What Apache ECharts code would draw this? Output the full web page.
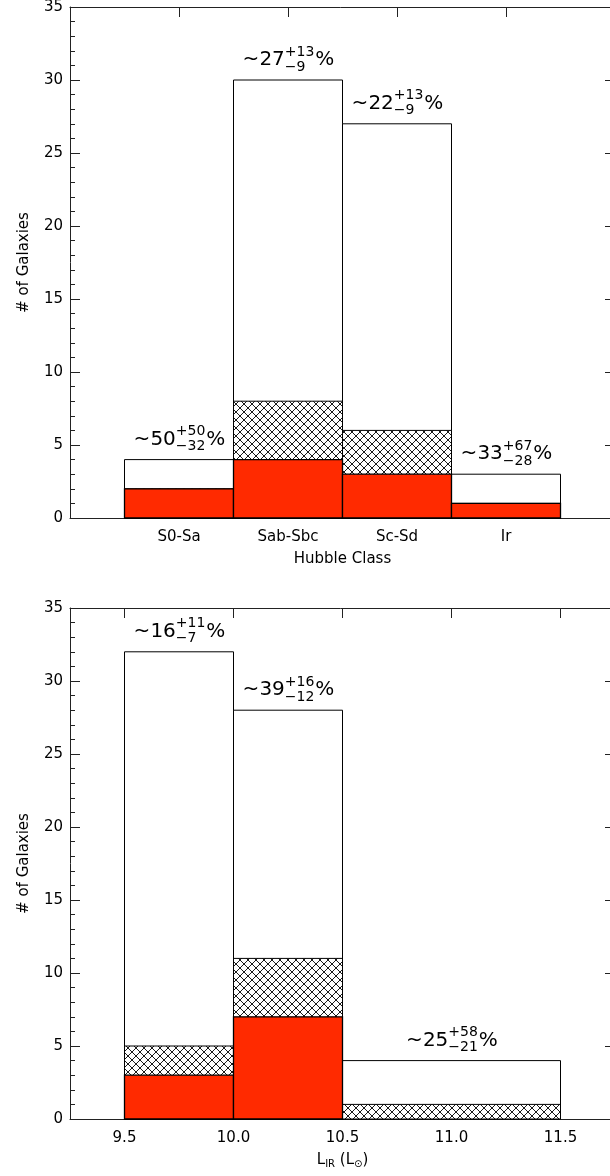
<!DOCTYPE html>
<html><head><meta charset="utf-8">
<script src="https://cdn.jsdelivr.net/npm/echarts@6/dist/echarts.min.js"></script>
<style>html,body{margin:0;padding:0;background:#fff}#c{width:610px;height:1176px}</style>
</head><body><div id="c"></div>
<script>
// ---------- DATA ----------
const hubbleClasses = ['S0-Sa', 'Sab-Sbc', 'Sc-Sd', 'Ir'];
const hubbleTotal   = [4, 30, 27, 3];
const hubbleHatched = [2, 8, 6, 1];
const hubbleRed     = [2, 4, 3, 1];
const hubbleMain    = ['~50', '~27', '~22', '~33'];
const hubbleSup     = ['+50', '+13', '+13', '+67'];
const hubbleSub     = ['\u221232', '\u22129', '\u22129', '\u221228'];

const lirEdges   = [9.5, 10.0, 10.5, 11.5];
const lirTicks   = [9.5, 10.0, 10.5, 11.0, 11.5];
const lirTotal   = [32, 28, 4];
const lirHatched = [5, 11, 1];
const lirRed     = [3, 7, 0];
const lirMain    = ['~16', '~39', '~25'];
const lirSup     = ['+11', '+16', '+58'];
const lirSub     = ['\u22127', '\u221212', '\u221221'];

const yTicksMax = 35, yTickStep = 5;

// ---------- STYLE ----------
const FAM = '"DejaVu Sans", sans-serif';
const FW = 'normal';
const INK = '#000';
const RED = '#ff2a00';

const hatch = document.createElement('canvas');
hatch.width = 8; hatch.height = 8;
(function () {
  const c = hatch.getContext('2d');
  c.fillStyle = '#fff'; c.fillRect(0, 0, 8, 8);
  c.strokeStyle = '#000'; c.lineWidth = 0.9;
  c.beginPath();
  c.moveTo(-2, -2); c.lineTo(10, 10);
  c.moveTo(10, -2); c.lineTo(-2, 10);
  c.stroke();
})();
const hatchFill = { image: hatch, repeat: 'repeat' };

const measure = document.createElement('canvas').getContext('2d');
function textW(t, size) { measure.font = FW + ' ' + size + 'px ' + FAM; return measure.measureText(t).width; }

function barRender(fill, lw) {
  return function (params, api) {
    const x0 = api.value(0), x1 = api.value(1), v = api.value(2);
    if (!(v > 0)) return;
    const a = api.coord([x0, v]), b = api.coord([x1, 0]);
    return { type: 'rect', shape: { x: a[0], y: a[1], width: b[0] - a[0], height: b[1] - a[1] },
      style: { fill: fill, stroke: '#000', lineWidth: lw } };
  };
}

function annoRender(mains, sups, subs) {
  return function (params, api) {
    const i = params.dataIndex;
    const p = api.coord([api.value(0), api.value(1)]);
    const M = 20, S = 14;
    const wm = textW(mains[i], M), ws = Math.max(textW(sups[i], S), textW(subs[i], S)), wp = textW('%', M);
    const sx = p[0] - (wm + ws + wp) / 2;
    const cy = p[1] - 20;
    const font = (s) => FW + ' ' + s + 'px ' + FAM;
    return { type: 'group', children: [
      { type: 'text', x: sx, y: cy, style: { text: mains[i], font: font(M), fill: INK, align: 'left', verticalAlign: 'middle' } },
      { type: 'text', x: sx + wm, y: cy - 8, style: { text: sups[i], font: font(S), fill: INK, align: 'left', verticalAlign: 'middle' } },
      { type: 'text', x: sx + wm, y: cy + 7, style: { text: subs[i], font: font(S), fill: INK, align: 'left', verticalAlign: 'middle' } },
      { type: 'text', x: sx + wm + ws + 1, y: cy, style: { text: '%', font: font(M), fill: INK, align: 'left', verticalAlign: 'middle' } }
    ] };
  };
}

// ---------- BUILD ----------
const hubbleBins = hubbleClasses.map((_, i) => [i + 0.5, i + 1.5]);
const lirBins = lirTotal.map((_, i) => [lirEdges[i], lirEdges[i + 1]]);
function rows(bins, vals) { return bins.map((b, i) => [b[0], b[1], vals[i]]); }
function annoRows(bins, vals) { return bins.map((b, i) => [(b[0] + b[1]) / 2, vals[i]]); }

const lineStyle = { color: '#222', width: 1 };
const labelStyle = { color: INK, fontSize: 15, fontFamily: FAM, fontWeight: FW };

function yAxes(g) {
  const common = {
    gridIndex: g, type: 'value', min: 0, max: yTicksMax, interval: yTickStep,
    axisLine: { show: true, onZero: false, lineStyle },
    axisTick: { show: true, inside: true, length: 10, lineStyle },
    minorTick: { show: true, splitNumber: 5, length: 5, lineStyle },
    splitLine: { show: false }, minorSplitLine: { show: false }
  };
  return [
    Object.assign({}, common, { position: 'left',
      axisLabel: Object.assign({ margin: 7, showMaxLabel: true, showMinLabel: true }, labelStyle),
      name: '# of Galaxies', nameLocation: 'middle', nameGap: 38, nameRotate: 90,
      nameTextStyle: Object.assign({}, labelStyle) }),
    Object.assign({}, common, { position: 'right', axisLabel: { show: false } })
  ];
}

const option = {
  animation: false,
  backgroundColor: '#fff',
  grid: [
    { left: 70, right: -5, top: 7, height: 511, outerBoundsMode: 'none', containLabel: false },
    { left: 70, right: -5, top: 608, height: 511, outerBoundsMode: 'none', containLabel: false }
  ],
  xAxis: [
    { gridIndex: 0, type: 'value', min: 0, max: hubbleClasses.length + 1, interval: 1, position: 'bottom',
      axisLine: { show: true, onZero: false, lineStyle },
      axisTick: { show: true, inside: true, length: 10, lineStyle },
      axisLabel: Object.assign({ margin: 12, formatter: v => hubbleClasses[v - 1] || '' }, labelStyle),
      splitLine: { show: false },
      name: 'Hubble Class', nameLocation: 'middle', nameGap: 34,
      nameTextStyle: Object.assign({}, labelStyle) },
    { gridIndex: 0, type: 'value', min: 0, max: hubbleClasses.length + 1, interval: 1, position: 'top',
      axisLine: { show: true, onZero: false, lineStyle },
      axisTick: { show: true, inside: true, length: 10, lineStyle },
      axisLabel: { show: false }, splitLine: { show: false } },
    { gridIndex: 1, type: 'value', min: 9.25, max: 11.75, position: 'bottom',
      axisLine: { show: true, onZero: false, lineStyle },
      axisTick: { show: true, inside: true, length: 10, lineStyle, customValues: lirTicks },
      axisLabel: Object.assign({ margin: 12, customValues: lirTicks, formatter: v => v.toFixed(1) }, labelStyle),
      splitLine: { show: false },
      name: 'L{s|IR} (L{s|\u2299})', nameLocation: 'middle', nameGap: 32,
      nameTextStyle: Object.assign({}, labelStyle, { rich: { s: { fontSize: 10, fontFamily: FAM, color: INK, padding: [8, 0, 0, 0] } } }) },
    { gridIndex: 1, type: 'value', min: 9.25, max: 11.75, position: 'top',
      axisLine: { show: true, onZero: false, lineStyle },
      axisTick: { show: true, inside: true, length: 10, lineStyle, customValues: lirTicks },
      axisLabel: { show: false }, splitLine: { show: false } }
  ],
  yAxis: yAxes(0).concat(yAxes(1)),
  series: [
    { type: 'custom', xAxisIndex: 0, yAxisIndex: 0, renderItem: barRender('#fff', 1), data: rows(hubbleBins, hubbleTotal), silent: true },
    { type: 'custom', xAxisIndex: 0, yAxisIndex: 0, renderItem: barRender(hatchFill, 1), data: rows(hubbleBins, hubbleHatched), silent: true },
    { type: 'custom', xAxisIndex: 0, yAxisIndex: 0, renderItem: barRender(RED, 1.3), data: rows(hubbleBins, hubbleRed), silent: true },
    { type: 'custom', xAxisIndex: 0, yAxisIndex: 0, renderItem: annoRender(hubbleMain, hubbleSup, hubbleSub), data: annoRows(hubbleBins, hubbleTotal), silent: true },
    { type: 'custom', xAxisIndex: 2, yAxisIndex: 2, renderItem: barRender('#fff', 1), data: rows(lirBins, lirTotal), silent: true },
    { type: 'custom', xAxisIndex: 2, yAxisIndex: 2, renderItem: barRender(hatchFill, 1), data: rows(lirBins, lirHatched), silent: true },
    { type: 'custom', xAxisIndex: 2, yAxisIndex: 2, renderItem: barRender(RED, 1.3), data: rows(lirBins, lirRed), silent: true },
    { type: 'custom', xAxisIndex: 2, yAxisIndex: 2, renderItem: annoRender(lirMain, lirSup, lirSub), data: annoRows(lirBins, lirTotal), silent: true }
  ]
};

const chart = echarts.init(document.getElementById('c'), null, { renderer: 'canvas' });
chart.setOption(option);
</script>
</body></html>
